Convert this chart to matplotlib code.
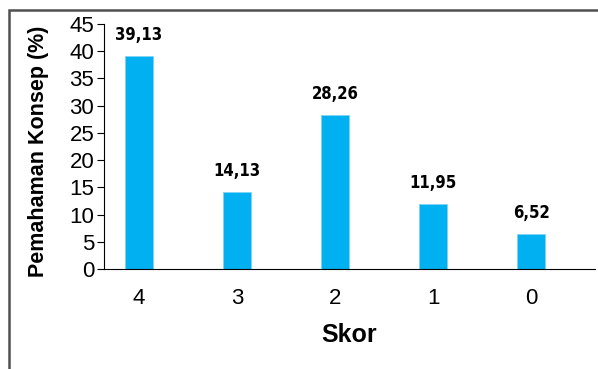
import matplotlib
matplotlib.use('Agg')
import matplotlib.pyplot as plt
from matplotlib.patches import Rectangle

skor = ['4', '3', '2', '1', '0']
persen = [39.13, 14.13, 28.26, 11.95, 6.52]
label_persen = ['39,13', '14,13', '28,26', '11,95', '6,52']
y_ticks = [0, 5, 10, 15, 20, 25, 30, 35, 40, 45]

plt.rcParams['font.family'] = ['Liberation Sans', 'DejaVu Sans']

fig = plt.figure(figsize=(5.98, 3.69), dpi=100)
ax = fig.add_axes([104 / 598, 100 / 369, 491 / 598, 245 / 369])

x = list(range(len(skor)))
ax.bar(x, persen, width=0.29, color='#00B0F0', edgecolor='#7fd3f5', linewidth=0.6, zorder=2)

for xi, v, lab in zip(x, persen, label_persen):
    ax.annotate(lab, (xi, v), xytext=(0, 8.5), textcoords='offset points',
                ha='center', va='bottom', fontsize=12, fontweight='bold',
                family='DejaVu Sans', fontstretch='condensed')

ax.set_xlim(-0.357, 4.65)
ax.set_ylim(0, 45)
ax.set_yticks(y_ticks)
ax.set_xticks(x)
ax.set_xticklabels(skor)
ax.tick_params(axis='y', labelsize=16, length=5, width=0.8, direction='out', pad=2)
ax.tick_params(axis='x', labelsize=16, length=0, pad=14)

for s in ['top', 'right']:
    ax.spines[s].set_visible(False)
ax.spines['left'].set_linewidth(0.8)
ax.spines['bottom'].set_linewidth(0.8)

ax.set_xlabel('Skor', fontsize=18, fontweight='bold', labelpad=10)
ax.set_ylabel('Pemahaman Konsep (%)', fontsize=15.5, fontweight='bold')
ax.yaxis.set_label_coords(-0.112, 0.48)

# outer chart frame, only the top and left sides fall inside the image
frame = Rectangle((9 / 598, -0.2), 1.2, 1.2 - 10 / 369, transform=fig.transFigure,
                  fill=False, edgecolor='#505050', linewidth=1.8, clip_on=False)
fig.patches.append(frame)

fig.savefig('out.png', dpi=100)
